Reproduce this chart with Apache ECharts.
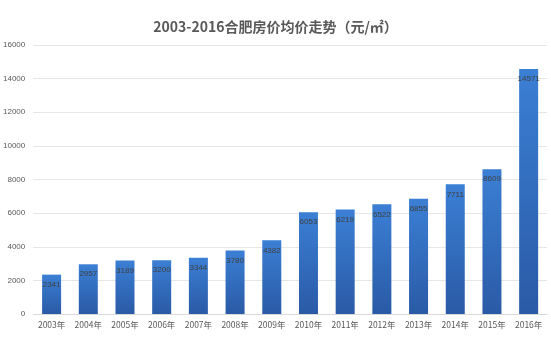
<!DOCTYPE html>
<html><head><meta charset="utf-8">
<script src="https://cdn.jsdelivr.net/npm/echarts@6/dist/echarts.min.js"></script>
<style>html,body{margin:0;padding:0;background:#fff}#c{width:551px;height:338px}</style>
</head><body><div id="c"></div>
<script>
var categories = ['2003年','2004年','2005年','2006年','2007年','2008年','2009年','2010年','2011年','2012年','2013年','2014年','2015年','2016年'];
var prices = [2341,2957,3189,3200,3344,3780,4382,6053,6219,6522,6855,7711,8609,14571];
var titleText = '2003-2016合肥房价均价走势（元/㎡）';
var chart = echarts.init(document.getElementById('c'));
chart.setOption({
  animation:false,
  title:{text:titleText,left:'center',top:15,textStyle:{fontFamily:'Noto Sans CJK SC',fontSize:14,fontWeight:'bold',color:'#595959'}},
  grid:{left:30,right:4,top:45,bottom:24},
  xAxis:{type:'category',data:categories,axisTick:{show:false},axisLine:{lineStyle:{color:'#d9d9d9'}},
    axisLabel:{fontSize:8.5,color:'#595959',margin:7,fontFamily:'Noto Sans CJK SC'}},
  yAxis:{type:'value',min:0,max:16000,interval:2000,axisLine:{show:false},axisTick:{show:false},
    axisLabel:{fontSize:8,color:'#595959',margin:8,formatter:function(v){return String(v);}},splitLine:{lineStyle:{color:'#e6e6e6'}}},
  series:[{type:'bar',data:prices,barWidth:19,
    itemStyle:{color:new echarts.graphic.LinearGradient(0,0,0,1,[{offset:0,color:'#3b7fd4'},{offset:1,color:'#2a5aa6'}])},
    label:{show:true,position:'insideTop',offset:[0,1],color:'#404040',fontSize:8}}]
});
</script></body></html>
